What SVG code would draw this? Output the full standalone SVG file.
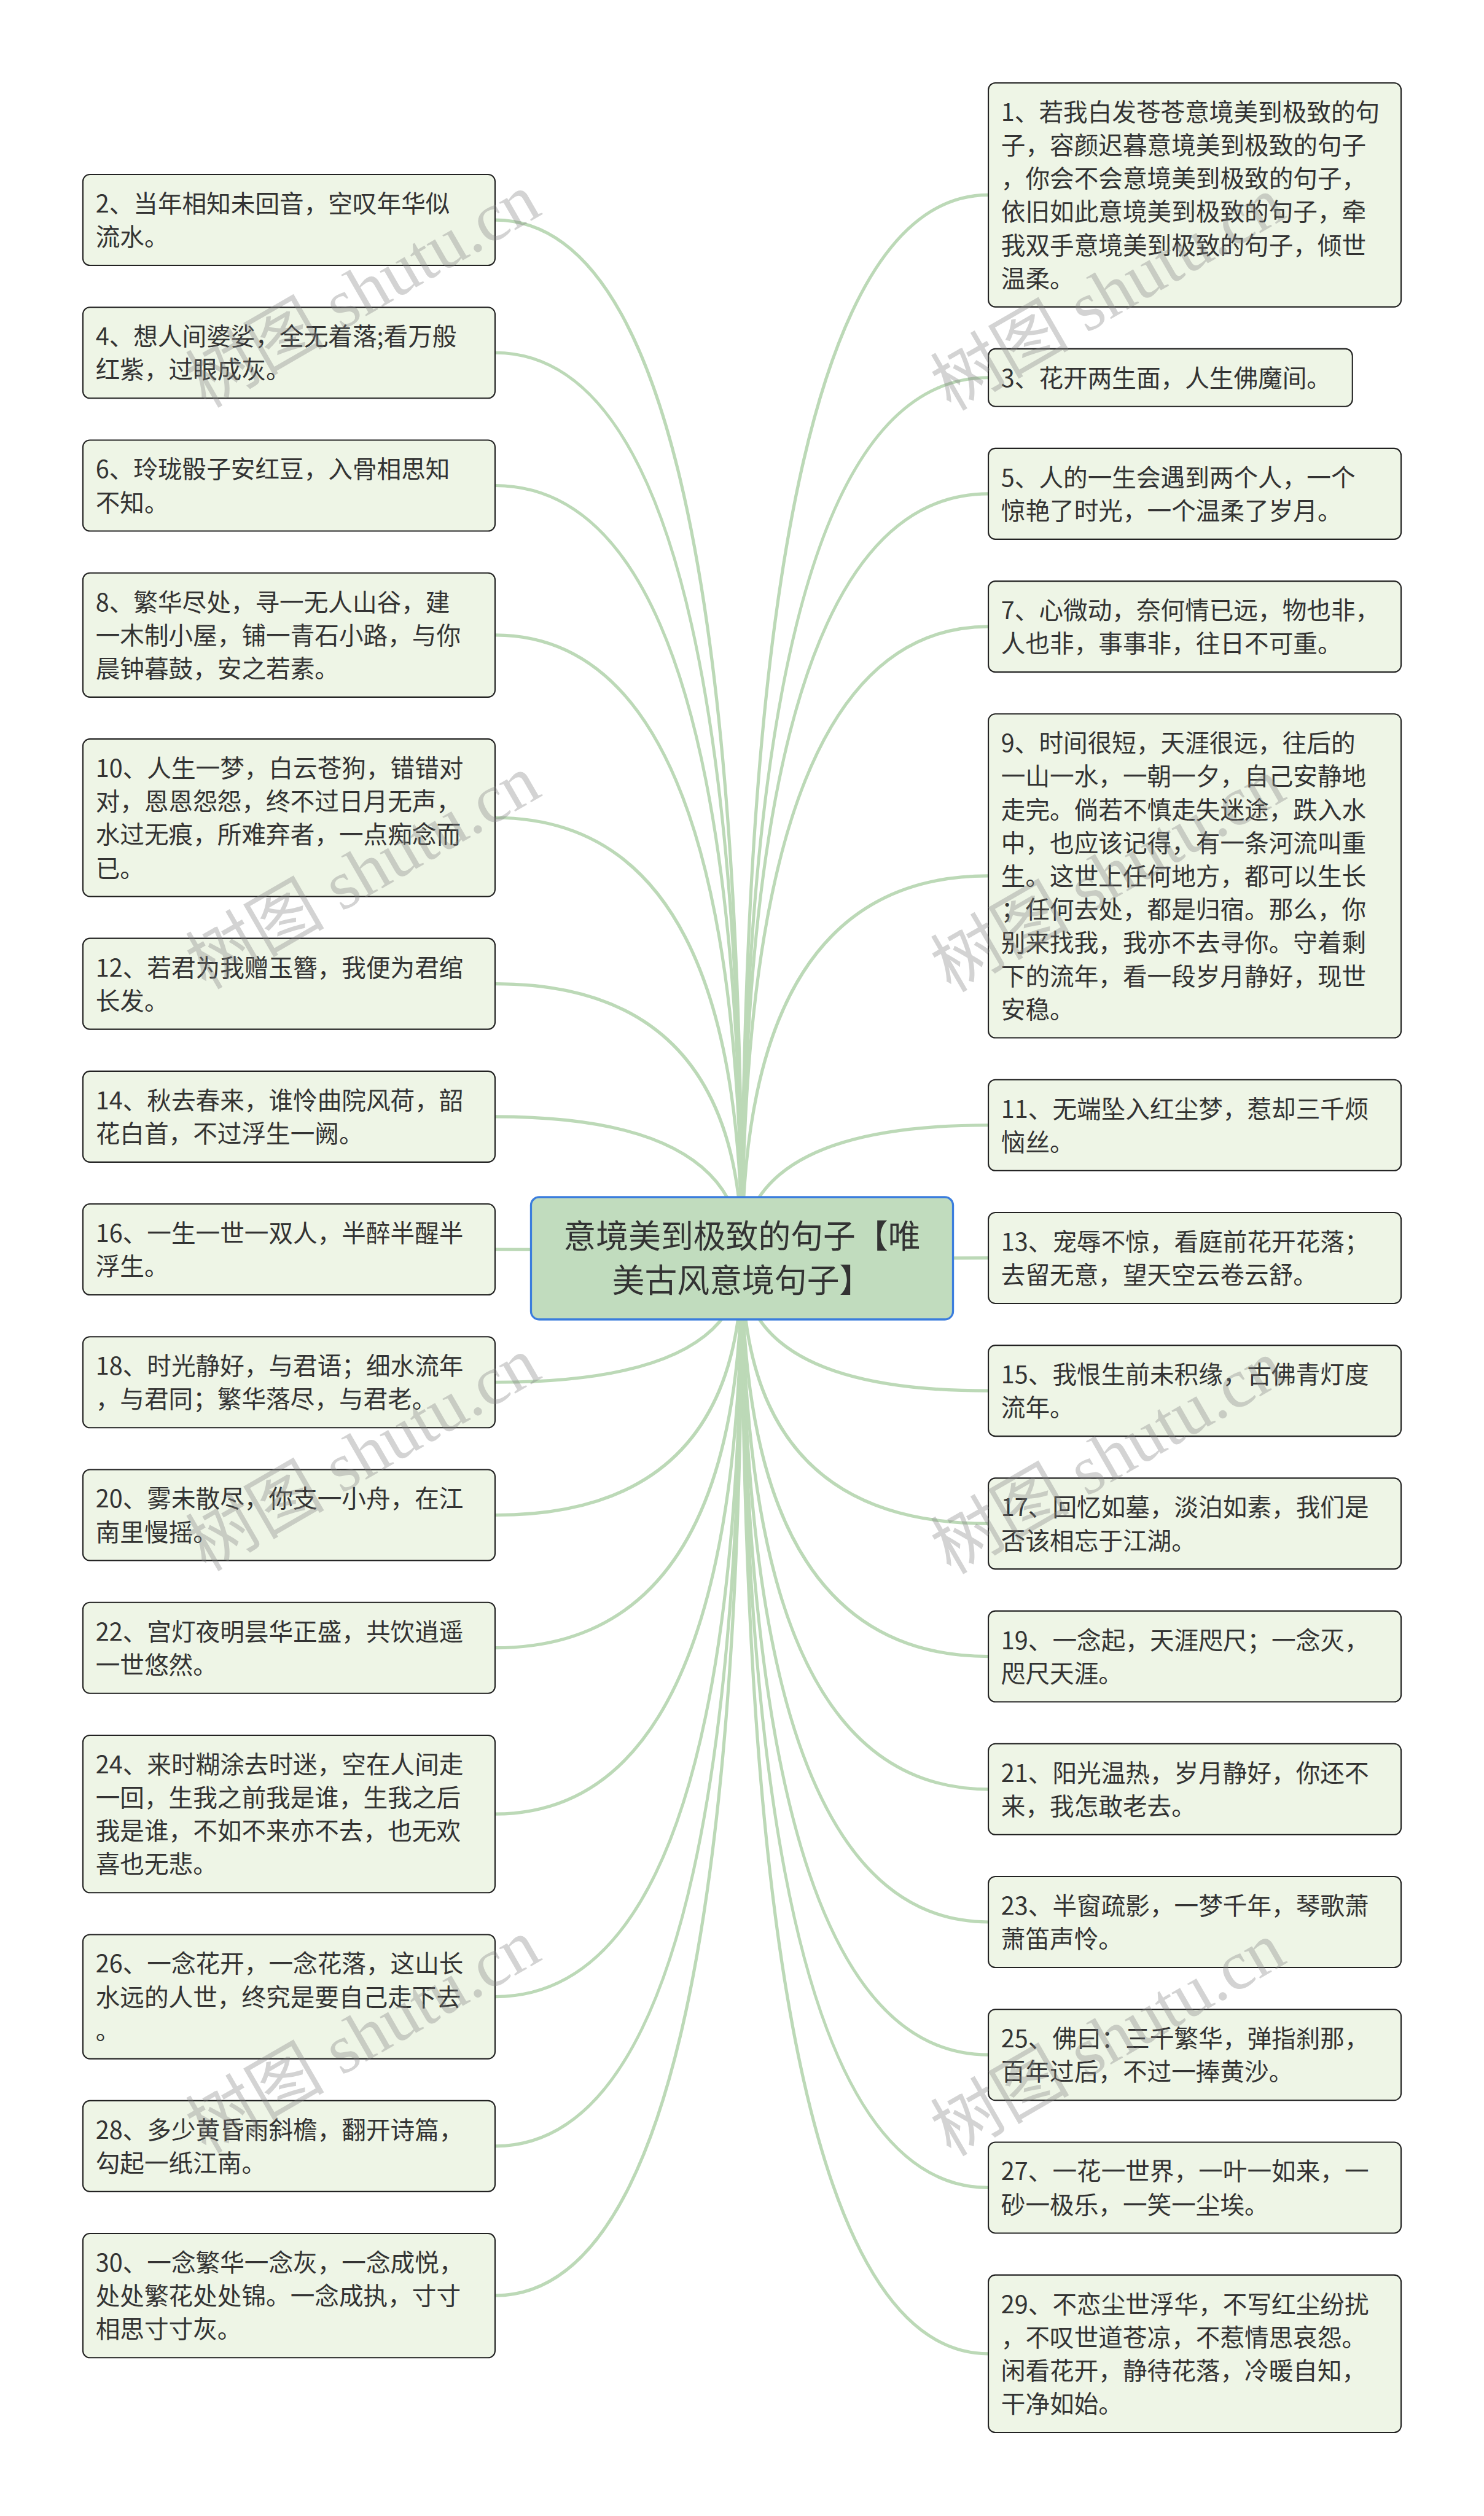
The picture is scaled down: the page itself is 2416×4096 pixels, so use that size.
<svg xmlns="http://www.w3.org/2000/svg" width="2416" height="4096" viewBox="0 0 2416 4096">
<style>
.c{fill:none;stroke:#bcd9b7;stroke-width:5.5;stroke-linecap:round}
.n rect{fill:#eef5e6;stroke:#222;stroke-width:2.2}
.n text{font-family:"Noto Sans CJK SC","Noto Sans",sans-serif;font-size:42px;fill:#333}
.root rect{fill:#c1dcbe;stroke:#3b7ddd;stroke-width:3.5}
.root text{font-family:"Noto Sans CJK SC","Noto Sans",sans-serif;font-size:56px;fill:#333;text-anchor:middle}
.wm{font-family:"Liberation Serif","Noto Sans CJK SC",serif;font-size:120px;fill:#808080;fill-opacity:0.35}
</style>
<rect x="0" y="0" width="2416" height="4096" fill="#ffffff"/>
<g transform="scale(0.94375)">
<g id="connectors">
<path class="c" d="M1280,2170.5 Q1280,336.2 1705,336.2"/>
<path class="c" d="M1280,2170.5 Q1280,651.4 1705,651.4"/>
<path class="c" d="M1280,2170.5 Q1280,851.8 1705,851.8"/>
<path class="c" d="M1280,2170.5 Q1280,1080.9 1705,1080.9"/>
<path class="c" d="M1280,2170.5 Q1280,1510.9 1705,1510.9"/>
<path class="c" d="M1280,2170.5 Q1280,1940.9 1705,1940.9"/>
<path class="c" d="M1280,2170.5 Q1280,2170 1705,2170"/>
<path class="c" d="M1280,2170.5 Q1280,2399.1 1705,2399.1"/>
<path class="c" d="M1280,2170.5 Q1280,2628.2 1705,2628.2"/>
<path class="c" d="M1280,2170.5 Q1280,2857.3 1705,2857.3"/>
<path class="c" d="M1280,2170.5 Q1280,3086.4 1705,3086.4"/>
<path class="c" d="M1280,2170.5 Q1280,3315.5 1705,3315.5"/>
<path class="c" d="M1280,2170.5 Q1280,3544.6 1705,3544.6"/>
<path class="c" d="M1280,2170.5 Q1280,3773.7 1705,3773.7"/>
<path class="c" d="M1280,2170.5 Q1280,4060.2 1705,4060.2"/>
<path class="c" d="M1280,2170.5 Q1280,379.4 854,379.4"/>
<path class="c" d="M1280,2170.5 Q1280,608.5 854,608.5"/>
<path class="c" d="M1280,2170.5 Q1280,837.6 854,837.6"/>
<path class="c" d="M1280,2170.5 Q1280,1095.4 854,1095.4"/>
<path class="c" d="M1280,2170.5 Q1280,1410.6 854,1410.6"/>
<path class="c" d="M1280,2170.5 Q1280,1697.1 854,1697.1"/>
<path class="c" d="M1280,2170.5 Q1280,1926.2 854,1926.2"/>
<path class="c" d="M1280,2170.5 Q1280,2155.3 854,2155.3"/>
<path class="c" d="M1280,2170.5 Q1280,2384.4 854,2384.4"/>
<path class="c" d="M1280,2170.5 Q1280,2613.5 854,2613.5"/>
<path class="c" d="M1280,2170.5 Q1280,2842.6 854,2842.6"/>
<path class="c" d="M1280,2170.5 Q1280,3129.1 854,3129.1"/>
<path class="c" d="M1280,2170.5 Q1280,3444.3 854,3444.3"/>
<path class="c" d="M1280,2170.5 Q1280,3702.1 854,3702.1"/>
<path class="c" d="M1280,2170.5 Q1280,3959.9 854,3959.9"/>
</g>
<g id="root" class="root">
<rect x="916" y="2065" width="728" height="211" rx="14"/>
<text x="1280" y="2153"><tspan x="1280">意境美到极致的句子【唯</tspan><tspan x="1280" dy="76">美古风意境句子】</tspan></text>
</g>
<g id="n1" class="n"><rect x="1705" y="143" width="712" height="386.4" rx="12"/>
<text x="1727" y="208.7"><tspan x="1727">1、若我白发苍苍意境美到极致的句</tspan><tspan x="1727" dy="57.4">子，容颜迟暮意境美到极致的句子</tspan><tspan x="1727" dy="57.4">，你会不会意境美到极致的句子，</tspan><tspan x="1727" dy="57.4">依旧如此意境美到极致的句子，牵</tspan><tspan x="1727" dy="57.4">我双手意境美到极致的句子，倾世</tspan><tspan x="1727" dy="57.4">温柔。</tspan></text></g>
<g id="n3" class="n"><rect x="1705" y="601.7" width="628" height="99.4" rx="12"/>
<text x="1727" y="667.4">3、花开两生面，人生佛魔间。</text></g>
<g id="n5" class="n"><rect x="1705" y="773.4" width="712" height="156.8" rx="12"/>
<text x="1727" y="839.1"><tspan x="1727">5、人的一生会遇到两个人，一个</tspan><tspan x="1727" dy="57.4">惊艳了时光，一个温柔了岁月。</tspan></text></g>
<g id="n7" class="n"><rect x="1705" y="1002.5" width="712" height="156.8" rx="12"/>
<text x="1727" y="1068.2"><tspan x="1727">7、心微动，奈何情已远，物也非，</tspan><tspan x="1727" dy="57.4">人也非，事事非，往日不可重。</tspan></text></g>
<g id="n9" class="n"><rect x="1705" y="1231.6" width="712" height="558.6" rx="12"/>
<text x="1727" y="1297.3"><tspan x="1727">9、时间很短，天涯很远，往后的</tspan><tspan x="1727" dy="57.4">一山一水，一朝一夕，自己安静地</tspan><tspan x="1727" dy="57.4">走完。倘若不慎走失迷途，跌入水</tspan><tspan x="1727" dy="57.4">中，也应该记得，有一条河流叫重</tspan><tspan x="1727" dy="57.4">生。这世上任何地方，都可以生长</tspan><tspan x="1727" dy="57.4">；任何去处，都是归宿。那么，你</tspan><tspan x="1727" dy="57.4">别来找我，我亦不去寻你。守着剩</tspan><tspan x="1727" dy="57.4">下的流年，看一段岁月静好，现世</tspan><tspan x="1727" dy="57.4">安稳。</tspan></text></g>
<g id="n11" class="n"><rect x="1705" y="1862.5" width="712" height="156.8" rx="12"/>
<text x="1727" y="1928.2"><tspan x="1727">11、无端坠入红尘梦，惹却三千烦</tspan><tspan x="1727" dy="57.4">恼丝。</tspan></text></g>
<g id="n13" class="n"><rect x="1705" y="2091.6" width="712" height="156.8" rx="12"/>
<text x="1727" y="2157.3"><tspan x="1727">13、宠辱不惊，看庭前花开花落；</tspan><tspan x="1727" dy="57.4">去留无意，望天空云卷云舒。</tspan></text></g>
<g id="n15" class="n"><rect x="1705" y="2320.7" width="712" height="156.8" rx="12"/>
<text x="1727" y="2386.4"><tspan x="1727">15、我恨生前未积缘，古佛青灯度</tspan><tspan x="1727" dy="57.4">流年。</tspan></text></g>
<g id="n17" class="n"><rect x="1705" y="2549.8" width="712" height="156.8" rx="12"/>
<text x="1727" y="2615.5"><tspan x="1727">17、回忆如墓，淡泊如素，我们是</tspan><tspan x="1727" dy="57.4">否该相忘于江湖。</tspan></text></g>
<g id="n19" class="n"><rect x="1705" y="2778.9" width="712" height="156.8" rx="12"/>
<text x="1727" y="2844.6"><tspan x="1727">19、一念起，天涯咫尺；一念灭，</tspan><tspan x="1727" dy="57.4">咫尺天涯。</tspan></text></g>
<g id="n21" class="n"><rect x="1705" y="3008" width="712" height="156.8" rx="12"/>
<text x="1727" y="3073.7"><tspan x="1727">21、阳光温热，岁月静好，你还不</tspan><tspan x="1727" dy="57.4">来，我怎敢老去。</tspan></text></g>
<g id="n23" class="n"><rect x="1705" y="3237.1" width="712" height="156.8" rx="12"/>
<text x="1727" y="3302.8"><tspan x="1727">23、半窗疏影，一梦千年，琴歌萧</tspan><tspan x="1727" dy="57.4">萧笛声怜。</tspan></text></g>
<g id="n25" class="n"><rect x="1705" y="3466.2" width="712" height="156.8" rx="12"/>
<text x="1727" y="3531.9"><tspan x="1727">25、佛曰：三千繁华，弹指刹那，</tspan><tspan x="1727" dy="57.4">百年过后，不过一捧黄沙。</tspan></text></g>
<g id="n27" class="n"><rect x="1705" y="3695.3" width="712" height="156.8" rx="12"/>
<text x="1727" y="3761"><tspan x="1727">27、一花一世界，一叶一如来，一</tspan><tspan x="1727" dy="57.4">砂一极乐，一笑一尘埃。</tspan></text></g>
<g id="n29" class="n"><rect x="1705" y="3924.4" width="712" height="271.6" rx="12"/>
<text x="1727" y="3990.1"><tspan x="1727">29、不恋尘世浮华，不写红尘纷扰</tspan><tspan x="1727" dy="57.4">，不叹世道苍凉，不惹情思哀怨。</tspan><tspan x="1727" dy="57.4">闲看花开，静待花落，冷暖自知，</tspan><tspan x="1727" dy="57.4">干净如始。</tspan></text></g>
<g id="n2" class="n"><rect x="143" y="301" width="711" height="156.8" rx="12"/>
<text x="165" y="366.7"><tspan x="165">2、当年相知未回音，空叹年华似</tspan><tspan x="165" dy="57.4">流水。</tspan></text></g>
<g id="n4" class="n"><rect x="143" y="530.1" width="711" height="156.8" rx="12"/>
<text x="165" y="595.8"><tspan x="165">4、想人间婆娑，全无着落;看万般</tspan><tspan x="165" dy="57.4">红紫，过眼成灰。</tspan></text></g>
<g id="n6" class="n"><rect x="143" y="759.2" width="711" height="156.8" rx="12"/>
<text x="165" y="824.9"><tspan x="165">6、玲珑骰子安红豆，入骨相思知</tspan><tspan x="165" dy="57.4">不知。</tspan></text></g>
<g id="n8" class="n"><rect x="143" y="988.3" width="711" height="214.2" rx="12"/>
<text x="165" y="1054"><tspan x="165">8、繁华尽处，寻一无人山谷，建</tspan><tspan x="165" dy="57.4">一木制小屋，铺一青石小路，与你</tspan><tspan x="165" dy="57.4">晨钟暮鼓，安之若素。</tspan></text></g>
<g id="n10" class="n"><rect x="143" y="1274.8" width="711" height="271.6" rx="12"/>
<text x="165" y="1340.5"><tspan x="165">10、人生一梦，白云苍狗，错错对</tspan><tspan x="165" dy="57.4">对，恩恩怨怨，终不过日月无声，</tspan><tspan x="165" dy="57.4">水过无痕，所难弃者，一点痴念而</tspan><tspan x="165" dy="57.4">已。</tspan></text></g>
<g id="n12" class="n"><rect x="143" y="1618.7" width="711" height="156.8" rx="12"/>
<text x="165" y="1684.4"><tspan x="165">12、若君为我赠玉簪，我便为君绾</tspan><tspan x="165" dy="57.4">长发。</tspan></text></g>
<g id="n14" class="n"><rect x="143" y="1847.8" width="711" height="156.8" rx="12"/>
<text x="165" y="1913.5"><tspan x="165">14、秋去春来，谁怜曲院风荷，韶</tspan><tspan x="165" dy="57.4">花白首，不过浮生一阙。</tspan></text></g>
<g id="n16" class="n"><rect x="143" y="2076.9" width="711" height="156.8" rx="12"/>
<text x="165" y="2142.6"><tspan x="165">16、一生一世一双人，半醉半醒半</tspan><tspan x="165" dy="57.4">浮生。</tspan></text></g>
<g id="n18" class="n"><rect x="143" y="2306" width="711" height="156.8" rx="12"/>
<text x="165" y="2371.7"><tspan x="165">18、时光静好，与君语；细水流年</tspan><tspan x="165" dy="57.4">，与君同；繁华落尽，与君老。</tspan></text></g>
<g id="n20" class="n"><rect x="143" y="2535.1" width="711" height="156.8" rx="12"/>
<text x="165" y="2600.8"><tspan x="165">20、雾未散尽，你支一小舟，在江</tspan><tspan x="165" dy="57.4">南里慢摇。</tspan></text></g>
<g id="n22" class="n"><rect x="143" y="2764.2" width="711" height="156.8" rx="12"/>
<text x="165" y="2829.9"><tspan x="165">22、宫灯夜明昙华正盛，共饮逍遥</tspan><tspan x="165" dy="57.4">一世悠然。</tspan></text></g>
<g id="n24" class="n"><rect x="143" y="2993.3" width="711" height="271.6" rx="12"/>
<text x="165" y="3059"><tspan x="165">24、来时糊涂去时迷，空在人间走</tspan><tspan x="165" dy="57.4">一回，生我之前我是谁，生我之后</tspan><tspan x="165" dy="57.4">我是谁，不如不来亦不去，也无欢</tspan><tspan x="165" dy="57.4">喜也无悲。</tspan></text></g>
<g id="n26" class="n"><rect x="143" y="3337.2" width="711" height="214.2" rx="12"/>
<text x="165" y="3402.9"><tspan x="165">26、一念花开，一念花落，这山长</tspan><tspan x="165" dy="57.4">水远的人世，终究是要自己走下去</tspan><tspan x="165" dy="57.4">。</tspan></text></g>
<g id="n28" class="n"><rect x="143" y="3623.7" width="711" height="156.8" rx="12"/>
<text x="165" y="3689.4"><tspan x="165">28、多少黄昏雨斜檐，翻开诗篇，</tspan><tspan x="165" dy="57.4">勾起一纸江南。</tspan></text></g>
<g id="n30" class="n"><rect x="143" y="3852.8" width="711" height="214.2" rx="12"/>
<text x="165" y="3918.5"><tspan x="165">30、一念繁华一念灰，一念成悦，</tspan><tspan x="165" dy="57.4">处处繁花处处锦。一念成执，寸寸</tspan><tspan x="165" dy="57.4">相思寸寸灰。</tspan></text></g>
<g id="watermarks">
<text class="wm" x="355" y="705" transform="rotate(-30 355 705)">树图 shutu.cn</text>
<text class="wm" x="1640" y="710" transform="rotate(-30 1640 710)">树图 shutu.cn</text>
<text class="wm" x="355" y="1708" transform="rotate(-30 355 1708)">树图 shutu.cn</text>
<text class="wm" x="1640" y="1713" transform="rotate(-30 1640 1713)">树图 shutu.cn</text>
<text class="wm" x="355" y="2712" transform="rotate(-30 355 2712)">树图 shutu.cn</text>
<text class="wm" x="1640" y="2717" transform="rotate(-30 1640 2717)">树图 shutu.cn</text>
<text class="wm" x="355" y="3716" transform="rotate(-30 355 3716)">树图 shutu.cn</text>
<text class="wm" x="1640" y="3721" transform="rotate(-30 1640 3721)">树图 shutu.cn</text>
</g>
</g>
</svg>
